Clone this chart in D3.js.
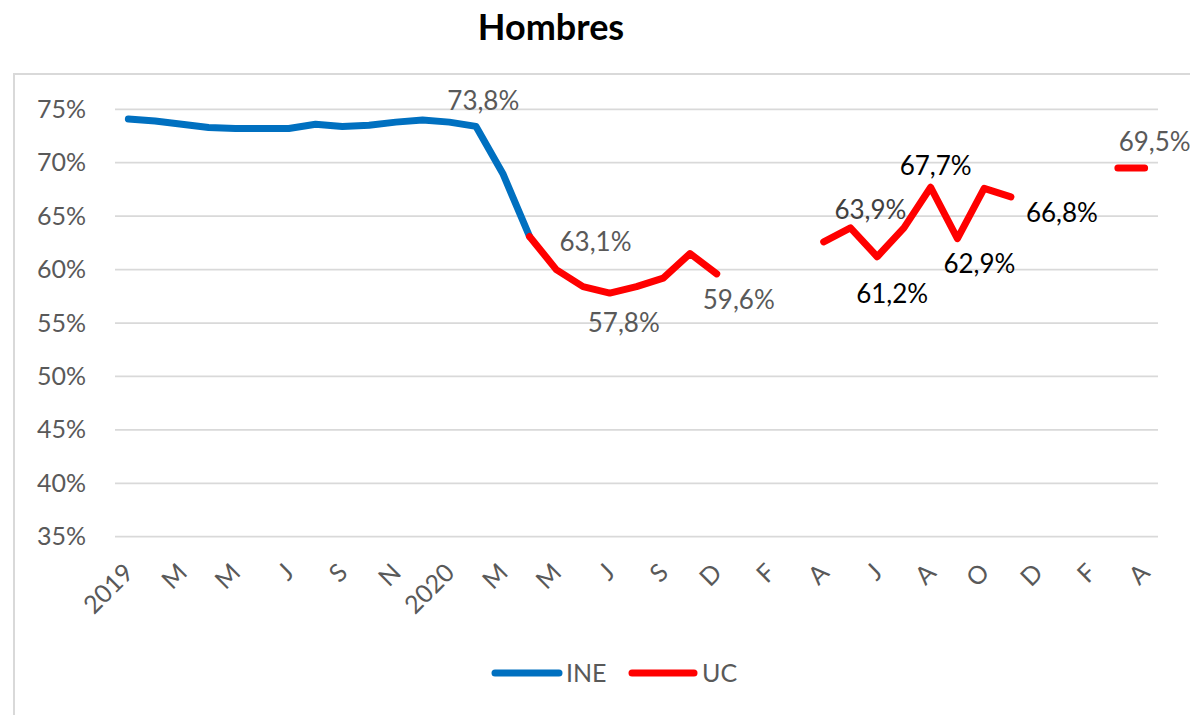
<!DOCTYPE html>
<html>
<head>
<meta charset="utf-8">
<script src="https://cdn.jsdelivr.net/npm/d3@7/dist/d3.min.js"></script>
<style>
  html, body { margin: 0; padding: 0; background: #fff; }
  svg { display: block; font-family: Lato, "Open Sans", sans-serif; }
</style>
</head>
<body>
<svg id="chart" width="1190" height="715"></svg>
<script>
// ---------- data ----------
const title = "Hombres";
const categoryCount = 39;
const tickLabels = ["2019","M","M","J","S","N","2020","M","M","J","S","D","F","A","J","A","O","D","F","A"];
const yTicks = [35, 40, 45, 50, 55, 60, 65, 70, 75];

// INE series (indices 0..15)
const ineValues = [74.1, 73.9, 73.6, 73.3, 73.2, 73.2, 73.2, 73.6, 73.4, 73.5, 73.8, 74.0, 73.8, 73.4, 69.0, 63.1];
const ineStart = 0;

// UC series (index 15..38, null = no data)
const ucValues = [63.1, 60.0, 58.4, 57.8, 58.4, 59.2, 61.5, 59.6,
                  null, null, null,
                  62.6, 63.9, 61.2, 63.9, 67.7, 62.9, 67.6, 66.8,
                  null, null, null,
                  69.5, 69.5];
const ucStart = 15;

// data labels: category index, text
const labelIndex = [12, 15, 18, 22, 27, 28, 30, 31, 33, 38];
const labelText  = ["73,8%", "63,1%", "57,8%", "59,6%", "63,9%", "61,2%", "67,7%", "62,9%", "66,8%", "69,5%"];
const labelValue = [73.8, 63.1, 57.8, 59.6, 63.9, 61.2, 67.7, 62.9, 66.8, 69.5];

const seriesNames = ["INE", "UC"];

// ---------- layout / style (not data) ----------
const colors = { INE: "#0070C0", UC: "#FF0000" };
const labelStyle = [
  {dx: 34, dy: -21, fill: "#595959"},
  {dx: 66, dy: 5,   fill: "#595959"},
  {dx: 14, dy: 30,  fill: "#595959"},
  {dx: 22, dy: 26,  fill: "#595959"},
  {dx: 20, dy: -18, fill: "#404040"},
  {dx: 15, dy: 37,  fill: "#000000"},
  {dx: 5,  dy: -21, fill: "#000000"},
  {dx: 22, dy: 25,  fill: "#000000"},
  {dx: 51, dy: 16,  fill: "#000000"},
  {dx: 10, dy: -26, fill: "#595959"}
];

const svg = d3.select("#chart");
const plot = { left: 115, right: 1158, top: 109.3, bottom: 536.7 };

// outer chart border
svg.append("rect")
  .attr("x", 14).attr("y", 74)
  .attr("width", 1200).attr("height", 700)
  .attr("fill", "none").attr("stroke", "#d9d9d9").attr("stroke-width", 2);

// title
svg.append("text")
  .attr("x", 551).attr("y", 40)
  .attr("text-anchor", "middle")
  .attr("font-weight", "bold")
  .attr("font-size", 36)
  .attr("fill", "#000")
  .text(title);

const x = d3.scalePoint()
  .domain(d3.range(categoryCount))
  .range([plot.left, plot.right])
  .padding(0.5);

const y = d3.scaleLinear()
  .domain([35, 75])
  .range([plot.bottom, plot.top]);

// gridlines
svg.append("g").selectAll("line")
  .data(yTicks).join("line")
  .attr("x1", plot.left).attr("x2", plot.right)
  .attr("y1", d => y(d)).attr("y2", d => y(d))
  .attr("stroke", "#d9d9d9").attr("stroke-width", 1.75);

// y axis labels
const yAxis = d3.axisLeft(y).tickValues(yTicks).tickSize(0).tickPadding(0)
  .tickFormat(d => d + "%");
const gy = svg.append("g").attr("transform", `translate(86,0)`).call(yAxis);
gy.select(".domain").remove();
gy.selectAll("text")
  .attr("font-family", "Lato, 'Open Sans', sans-serif")
  .attr("font-size", 25).attr("fill", "#595959").attr("dy", "0.32em");

// x axis labels
const xAxis = d3.axisBottom(x)
  .tickValues(d3.range(0, categoryCount, 2))
  .tickSize(0).tickPadding(0)
  .tickFormat(d => tickLabels[d / 2]);
const gx = svg.append("g").attr("transform", `translate(0,568)`).call(xAxis);
gx.select(".domain").remove();
gx.selectAll("text")
  .attr("font-family", "Lato, 'Open Sans', sans-serif")
  .attr("font-size", 25).attr("fill", "#595959")
  .attr("text-anchor", "end")
  .attr("y", 0).attr("dy", "0.35em")
  .attr("transform", "rotate(-45)");

// lines
const line = d3.line()
  .defined(d => d.v != null)
  .x(d => x(d.i)).y(d => y(d.v));

const ineData = ineValues.map((v, k) => ({ i: ineStart + k, v }));
const ucData = ucValues.map((v, k) => ({ i: ucStart + k, v }));

svg.append("path").datum(ineData)
  .attr("d", line).attr("fill", "none")
  .attr("stroke", colors.INE).attr("stroke-width", 7)
  .attr("stroke-linejoin", "round").attr("stroke-linecap", "round");

svg.append("path").datum(ucData)
  .attr("d", line).attr("fill", "none")
  .attr("stroke", colors.UC).attr("stroke-width", 7)
  .attr("stroke-linejoin", "round").attr("stroke-linecap", "round");

// data labels
svg.append("g").selectAll("text")
  .data(labelIndex).join("text")
  .attr("x", (d, k) => x(d) + labelStyle[k].dx)
  .attr("y", (d, k) => y(labelValue[k]) + labelStyle[k].dy)
  .attr("dy", "0.35em")
  .attr("text-anchor", "middle")
  .attr("font-size", 26)
  .attr("fill", (d, k) => labelStyle[k].fill)
  .text((d, k) => labelText[k]);

// legend
const legendItems = [
  { name: seriesNames[0], x1: 495, x2: 559, tx: 566 },
  { name: seriesNames[1], x1: 632, x2: 694, tx: 702 }
];
const lg = svg.append("g");
legendItems.forEach(it => {
  lg.append("line")
    .attr("x1", it.x1).attr("x2", it.x2).attr("y1", 673).attr("y2", 673)
    .attr("stroke", colors[it.name]).attr("stroke-width", 7).attr("stroke-linecap", "round");
  lg.append("text")
    .attr("x", it.tx).attr("y", 673).attr("dy", "0.35em")
    .attr("font-size", 25).attr("fill", "#595959")
    .text(it.name);
});
</script>
</body>
</html>
